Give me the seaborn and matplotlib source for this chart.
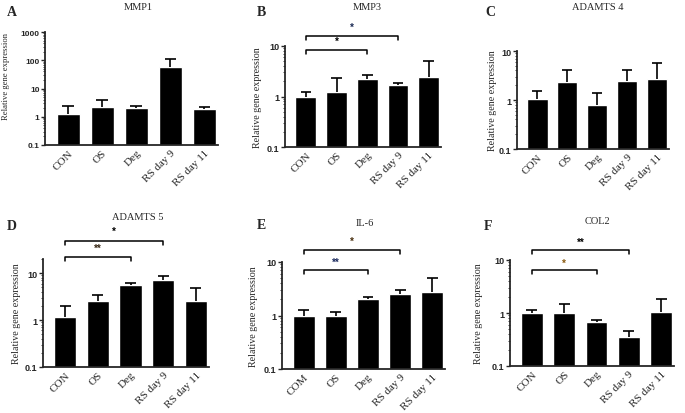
import numpy as np
import seaborn as sns
import matplotlib.pyplot as plt
from matplotlib import ticker, transforms

sns.set_style("ticks")
plt.rcParams['font.family'] = ['Liberation Serif', 'DejaVu Serif']

groups = ["CON", "OS", "Deg", "RS day 9", "RS day 11"]
groups_il6 = ["COM", "OS", "Deg", "RS day 9", "RS day 11"]

mmp1_mean = [1.3, 2.3, 2.05, 56, 1.85]
mmp1_upper = [2.35, 3.8, 2.45, 114, 2.15]
mmp3_mean = [1.0, 1.22, 2.26, 1.67, 2.44]
mmp3_upper = [1.25, 2.3, 2.63, 1.83, 5.05]
adamts4_mean = [1.07, 2.28, 0.79, 2.46, 2.66]
adamts4_upper = [1.52, 4.1, 1.4, 4.1, 5.8]
adamts5_mean = [1.16, 2.52, 5.48, 7.0, 2.6]
adamts5_upper = [1.97, 3.37, 6.3, 8.9, 4.8]
il6_mean = [1.0, 1.0, 2.01, 2.5, 2.8]
il6_upper = [1.26, 1.15, 2.2, 3.0, 5.0]
col2_mean = [1.0, 1.0, 0.675, 0.345, 1.05]
col2_upper = [1.16, 1.46, 0.73, 0.45, 1.87]

W, H = 685, 414
fig = plt.figure(figsize=(W / 100, H / 100), dpi=100)


def px_rect(l, t, r, b):
    return [l / W, 1 - b / H, (r - l) / W, (b - t) / H]


# letter, title, labels, means, upper, rect(px), ymax, letter pos, title pos, ylabel offset
panels = [
    ("A", "MMP1", groups, mmp1_mean, mmp1_upper, (45, 33, 218, 146), 1000,
     (12, 13), (138, 8), 35),
    ("B", "MMP3", groups, mmp3_mean, mmp3_upper, (285, 47, 441, 148), 10,
     (261, 13), (367, 8), 23),
    ("C", "ADAMTS 4", groups, adamts4_mean, adamts4_upper, (517, 52, 669, 150), 10,
     (490, 13), (598, 8), 20),
    ("D", "ADAMTS 5", groups, adamts5_mean, adamts5_upper, (43, 260, 209, 368), 20,
     (12, 227), (138, 218), 22),
    ("E", "IL-6", groups_il6, il6_mean, il6_upper, (282, 263, 445, 370), 10,
     (261, 226), (365, 224), 24),
    ("F", "COL2", groups, col2_mean, col2_upper, (510, 261, 674, 367), 10,
     (488, 227), (597, 222), 27),
]

# significance brackets: (x1, x2, line y, star y, text, colour) in axes fraction
brackets = {
    "B": [(0, 3, 1.10, 1.19, "*", "#1c2b55"), (0, 2, 0.96, 1.05, "*", "black")],
    "D": [(0, 3, 1.164, 1.26, "*", "black"), (0, 2, 1.016, 1.10, "**", "#3a2a18")],
    "E": [(0, 3, 1.115, 1.20, "*", "#4a3010"), (0, 2, 0.928, 1.00, "**", "#1c2b5f")],
    "F": [(0, 3, 1.092, 1.17, "**", "black"), (0, 2, 0.903, 0.975, "*", "#8a5a10")],
}

for letter, title, labels, means, upper, r, ymax, lpos, tpos, yoff in panels:
    ax = fig.add_axes(px_rect(*r))
    sns.barplot(x=labels, y=means, color="black", saturation=1, width=0.68,
                errorbar=None, ax=ax)
    xs = np.arange(5)
    # upper-only error bars with a cap
    ax.vlines(xs, means, upper, color="black", lw=1.2, zorder=3)
    ax.hlines(upper, xs - 0.17, xs + 0.17, color="black", lw=1.2, zorder=3)
    ax.set_yscale("log")
    ax.set_ylim(0.1, ymax)
    ax.set_xlim(-0.68, 4.4)

    yt = [t for t in [0.1, 1, 10, 100, 1000] if t <= ymax]
    ax.set_yticks(yt)
    ax.set_yticklabels([("%g" % t) for t in yt], fontsize=6.5 if letter != "A" else 6,
                       fontweight="bold", family="Liberation Sans")
    ax.yaxis.set_minor_locator(ticker.LogLocator(base=10, subs=np.arange(2, 10) * 1.0,
                                                 numticks=20))
    ax.yaxis.set_minor_formatter(ticker.NullFormatter())
    ax.tick_params(axis="y", which="major", length=3, width=1, pad=1)
    ax.tick_params(axis="y", which="minor", length=1.5, width=0.6)
    ax.tick_params(axis="x", length=0, pad=2)
    ax.set_xticks(xs)
    ax.set_xticklabels(labels, rotation=45, ha="right", rotation_mode="anchor",
                       fontsize=8)

    sns.despine(ax=ax)
    for s in ["left", "bottom"]:
        ax.spines[s].set_linewidth(1.3)

    wpx = r[2] - r[0]
    hpx = r[3] - r[1]
    if letter == "A":
        ax.set_ylabel("Relative gene expression", fontsize=6.2)
        ax.yaxis.set_label_coords(-yoff / wpx, (146 - 76) / hpx)
    else:
        ax.set_ylabel("Relative gene expression", fontsize=7.2)
        ax.yaxis.set_label_coords(-yoff / wpx, 0.5)

    fig.text(lpos[0] / W, 1 - lpos[1] / H, letter, fontsize=10, fontweight="bold",
             ha="center", va="center")
    fig.text(tpos[0] / W, 1 - tpos[1] / H, title, fontsize=7.5,
             ha="center", va="center")

    trans = transforms.blended_transform_factory(ax.transData, ax.transAxes)
    for x1, x2, yl, ys, txt, col in brackets.get(letter, []):
        d = 4.0 / hpx
        ax.plot([x1, x1, x2, x2], [yl - d, yl, yl, yl - d], transform=trans,
                color="black", lw=1.1, clip_on=False)
        ax.text((x1 + x2) / 2, ys, txt, transform=trans, ha="center", va="center",
                fontsize=7, fontweight="bold", color=col, family="Liberation Sans")

fig.savefig("out.png", dpi=100)
